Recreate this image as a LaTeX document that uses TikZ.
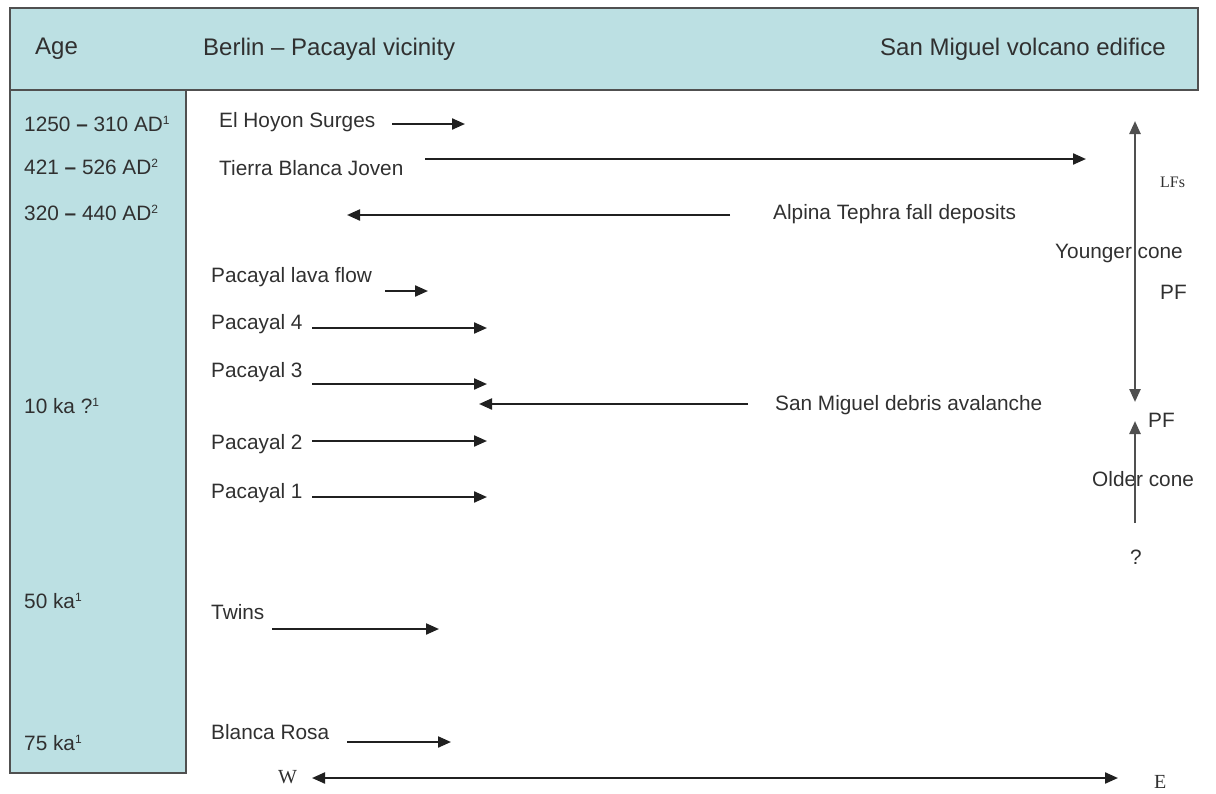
\documentclass[tikz,border=0pt]{standalone}
\usepackage{fontspec}
\setmainfont{Liberation Sans}
\newfontfamily\serifnum{Liberation Serif}
\usetikzlibrary{arrows.meta}
\definecolor{boxfill}{HTML}{BCE0E3}
\definecolor{boxline}{HTML}{505050}
\definecolor{txt}{HTML}{303030}
\definecolor{arrc}{HTML}{202020}
\definecolor{varrc}{HTML}{505050}
\tikzset{
  tip/.tip={Triangle[length=13pt,width=11pt]},
  lbl/.style={anchor=west, inner sep=0pt, text=txt, font=\fontsize{20.8}{24}\selectfont},
  hdr/.style={anchor=west, inner sep=0pt, text=txt, font=\fontsize{24}{28}\selectfont},
  serifl/.style={anchor=west, inner sep=0pt, text=txt, font=\serifnum\fontsize{16}{19}\selectfont},
  arr/.style={draw=arrc, line width=2.2pt, -tip},
  darr/.style={draw=arrc, line width=2.2pt, tip-tip},
  varr/.style={draw=varrc, line width=2.4pt},
  panel/.style={draw=boxline, line width=2pt, fill=boxfill}
}
\newcommand{\sups}[1]{\textsuperscript{\fontsize{12}{13}\selectfont #1}}
\newcommand{\dsh}{\textbf{–}}
\begin{document}
\begin{tikzpicture}[x=1pt,y=-1pt]
\useasboundingbox (0,0) rectangle (1216,793);
% panels
\path[panel] (10,90) rectangle (186,773);
\path[panel] (10,8) rectangle (1198,90);
% header texts
\node[hdr] (hage) at (35,49) {Age};
\node[hdr] (hber) at (203,49) {Berlin – Pacayal vicinity};
\node[hdr] (hsan) at (880,49) {San Miguel volcano edifice};
% age labels
\node[lbl] (g1) at (24,124) {1250 \dsh{} 310 AD\sups{1}};
\node[lbl] (g2) at (24,167) {421 \dsh{} 526 AD\sups{2}};
\node[lbl] (g3) at (24,213) {320 \dsh{} 440 AD\sups{2}};
\node[lbl] (g4) at (24,406) {10 ka ?\sups{1}};
\node[lbl] (g5) at (24,601) {50 ka\sups{1}};
\node[lbl] (g6) at (24,743) {75 ka\sups{1}};
% deposit labels
\node[lbl] (hoy) at (219,122) {El Hoyon Surges};
\node[lbl] (tbj) at (219,168) {Tierra Blanca Joven};
\node[lbl] (alp) at (773,214) {Alpina Tephra fall deposits};
\node[lbl] (plf) at (211,277) {Pacayal lava flow};
\node[lbl] (p4) at (211,324) {Pacayal 4};
\node[lbl] (p3) at (211,372) {Pacayal 3};
\node[lbl] (smd) at (775,405) {San Miguel debris avalanche};
\node[lbl] (p2) at (211,444) {Pacayal 2};
\node[lbl] (p1) at (211,493) {Pacayal 1};
\node[lbl] (tw) at (211,612) {Twins};
\node[lbl] (br) at (211,732) {Blanca Rosa};
% right side labels
\node[serifl] (lfs) at (1160,182) {LFs};
\node[lbl] (yc) at (1055,253) {Younger cone};
\node[lbl] (pf1) at (1160,292) {PF};
\node[lbl] (pf2) at (1148,420) {PF};
\node[lbl] (oc) at (1092,479) {Older cone};
\node[lbl, anchor=center] (q) at (1136,557) {?};
% W / E
\node[serifl, font=\serifnum\fontsize{20}{24}\selectfont] (w) at (278,777) {W};
\node[serifl, font=\serifnum\fontsize{20}{24}\selectfont] (e) at (1154,782) {E};
% arrow end coordinates
\coordinate (hoyA) at (392,124); \coordinate (hoyB) at (465,124);
\coordinate (tbjA) at (425,159); \coordinate (tbjB) at (1086,159);
\coordinate (alpA) at (730,215); \coordinate (alpB) at (347,215);
\coordinate (plfA) at (385,291); \coordinate (plfB) at (428,291);
\coordinate (p4A) at (312,328); \coordinate (p4B) at (487,328);
\coordinate (p3A) at (312,384); \coordinate (p3B) at (487,384);
\coordinate (smdA) at (748,404); \coordinate (smdB) at (479,404);
\coordinate (p2A) at (312,441); \coordinate (p2B) at (487,441);
\coordinate (p1A) at (312,497); \coordinate (p1B) at (487,497);
\coordinate (twA) at (272,629); \coordinate (twB) at (439,629);
\coordinate (brA) at (347,742); \coordinate (brB) at (451,742);
\coordinate (weA) at (312,778); \coordinate (weB) at (1118,778);
\coordinate (ycT) at (1135,121); \coordinate (ycB) at (1135,402);
\coordinate (ocB) at (1135,523); \coordinate (ocT) at (1135,421);
% arrows
\draw[arr] (hoyA) -- (hoyB);
\draw[arr] (tbjA) -- (tbjB);
\draw[arr] (alpA) -- (alpB);
\draw[arr] (plfA) -- (plfB);
\draw[arr] (p4A) -- (p4B);
\draw[arr] (p3A) -- (p3B);
\draw[arr] (smdA) -- (smdB);
\draw[arr] (p2A) -- (p2B);
\draw[arr] (p1A) -- (p1B);
\draw[arr] (twA) -- (twB);
\draw[arr] (brA) -- (brB);
\draw[darr] (weA) -- (weB);
\draw[varr, tip-tip] (ycT) -- (ycB);
\draw[varr, -tip] (ocB) -- (ocT);
\end{tikzpicture}
\end{document}
